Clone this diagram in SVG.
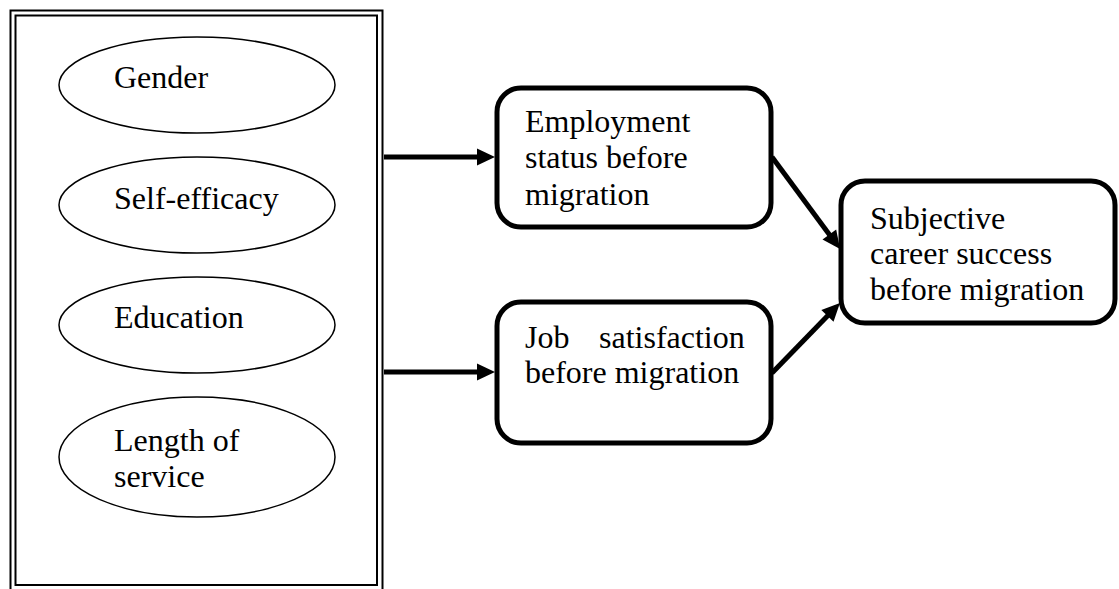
<svg xmlns="http://www.w3.org/2000/svg" width="1119" height="589" viewBox="0 0 1119 589">
  <style>
    .frame { fill: none; stroke: #000; stroke-width: 2; }
    .oval { fill: #fff; stroke: #000; stroke-width: 1.5; }
    .box { fill: #fff; stroke: #000; stroke-width: 5; }
    .lbl { font-family: "Liberation Serif", "Times New Roman", serif; font-size: 32px; fill: #000; }
    .arrow { fill: none; stroke: #000; stroke-width: 5; marker-end: url(#head); }
  </style>
  <defs>
    <marker id="head" markerUnits="userSpaceOnUse" markerWidth="20" markerHeight="18" refX="8" refY="8.5" orient="auto" overflow="visible">
      <path d="M0,0 L18,8.5 L0,17 z" fill="#000"/>
    </marker>
  </defs>
  <rect width="1119" height="589" fill="#fff"/>

  <!-- predictor group: double-lined frame -->
  <g id="predictors">
    <rect class="frame" x="10.5" y="10.5" width="372" height="582"/>
    <rect class="frame" x="15.5" y="15.5" width="361.5" height="569.5"/>
  </g>

  <g id="gender">
    <ellipse class="oval" cx="197" cy="85" rx="138" ry="48"/>
    <text class="lbl" x="114" y="88">Gender</text>
  </g>
  <g id="self-efficacy">
    <ellipse class="oval" cx="197" cy="205" rx="138" ry="48"/>
    <text class="lbl" x="114" y="209">Self-efficacy</text>
  </g>
  <g id="education">
    <ellipse class="oval" cx="197" cy="325" rx="138" ry="48"/>
    <text class="lbl" x="114" y="328">Education</text>
  </g>
  <g id="length-of-service">
    <ellipse class="oval" cx="197" cy="457" rx="138" ry="60"/>
    <text class="lbl" x="114" y="451">Length of<tspan x="114" y="487">service</tspan></text>
  </g>

  <g id="employment-status">
    <rect class="box" x="497" y="88" width="274" height="139" rx="24"/>
    <text class="lbl" x="525" y="132">Employment<tspan x="525" y="168">status before</tspan><tspan x="525" y="205">migration</tspan></text>
  </g>
  <g id="job-satisfaction">
    <rect class="box" x="497" y="302" width="274" height="141" rx="24"/>
    <text class="lbl" y="348"><tspan x="525">Job</tspan> <tspan x="599">satisfaction</tspan><tspan x="525" y="383">before migration</tspan></text>
  </g>
  <g id="career-success">
    <rect class="box" x="841" y="181" width="274" height="142" rx="24"/>
    <text class="lbl" x="870" y="229">Subjective<tspan x="870" y="264">career success</tspan><tspan x="870" y="300">before migration</tspan></text>
  </g>

  <g id="connectors">
    <path class="arrow" d="M384,157 L485,157"/>
    <path class="arrow" d="M384,372 L485,372"/>
    <path class="arrow" d="M772,157 L834.1,241"/>
    <path class="arrow" d="M772,373 L833,310.2"/>
  </g>
</svg>
